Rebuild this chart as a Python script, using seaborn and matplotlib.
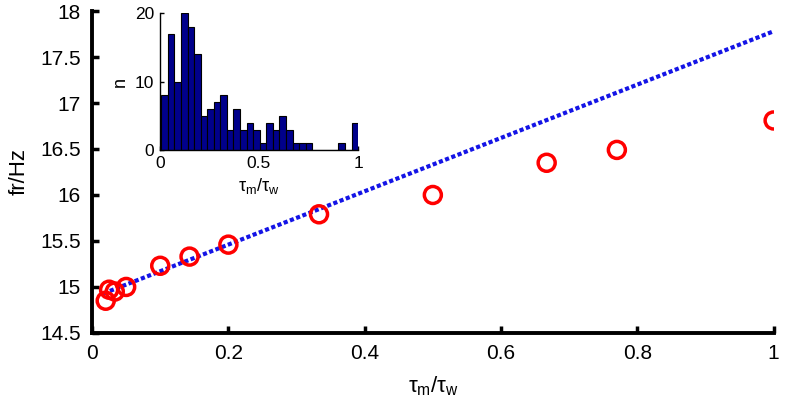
import numpy as np
import pandas as pd
import seaborn as sns
import matplotlib.pyplot as plt

# data
ratio = [0.02, 0.025, 0.0333, 0.05, 0.1, 0.143, 0.2, 0.333, 0.5, 0.667, 0.77, 1.0]
rate = [14.85, 14.97, 14.95, 15.00, 15.23, 15.33, 15.46, 15.79, 16.00, 16.35, 16.49, 16.81]
fit_x = [0.017, 1.0]
fit_y = [14.93, 17.78]

hist_lo, hist_hi, n_bins = 0.008, 1.0, 30
hist_counts = [8, 17, 10, 20, 18, 14, 5, 6, 7, 8, 3, 6, 3, 4, 3,
               1, 4, 3, 5, 3, 1, 1, 1, 0, 0, 0, 0, 1, 0, 4]

sns.set_style('ticks')
plt.rcParams['font.family'] = ['Liberation Sans', 'DejaVu Sans']
plt.rcParams['mathtext.fontset'] = 'custom'
plt.rcParams['mathtext.rm'] = 'Liberation Sans'
plt.rcParams['mathtext.it'] = 'Liberation Sans'
plt.rcParams['xtick.direction'] = 'in'
plt.rcParams['ytick.direction'] = 'in'
for k in ['axes.edgecolor', 'text.color', 'axes.labelcolor', 'xtick.color', 'ytick.color']:
    plt.rcParams[k] = 'black'

fig = plt.figure(figsize=(7.87, 4.09), dpi=100)
ax = fig.add_axes([0.117, 0.186, 0.866, 0.787])

sns.lineplot(x=fit_x, y=fit_y, ax=ax, color='#1414e6', lw=3, linestyle=(0, (1, 0.6)))
sns.scatterplot(x=ratio, y=rate, ax=ax, marker='o', s=150, facecolor='none',
                edgecolor='red', linewidth=2.5, zorder=3)

ax.set_xlim(0, 1)
ax.set_ylim(14.5, 18)
ax.set_xticks([0, 0.2, 0.4, 0.6, 0.8, 1])
ax.set_xticklabels(['0', '0.2', '0.4', '0.6', '0.8', '1'])
ax.set_yticks(np.arange(14.5, 18.01, 0.5))
ax.set_yticklabels(['14.5', '15', '15.5', '16', '16.5', '17', '17.5', '18'])
ax.tick_params(labelsize=15, width=2.5, length=5, pad=8)
for s in ['left', 'bottom']:
    ax.spines[s].set_linewidth(2.8)
sns.despine(ax=ax)
ax.set_xlabel(r'$\tau_m/\tau_w$', fontsize=16, labelpad=8)
ax.set_ylabel('fr/Hz', fontsize=16, labelpad=8)

# inset histogram
ins = fig.add_axes([0.203, 0.633, 0.252, 0.335])
w = (hist_hi - hist_lo) / n_bins
hist_df = pd.DataFrame({'ratio': hist_lo + w * (np.arange(n_bins) + 0.5),
                        'n': hist_counts})
sns.histplot(data=hist_df, x='ratio', weights='n', bins=n_bins,
             binrange=(hist_lo, hist_hi), ax=ins,
             color='#00008b', edgecolor='black', linewidth=0.8, alpha=1)
ins.set_xlim(0, 1)
ins.set_ylim(0, 20)
ins.set_xticks([0, 0.5, 1])
ins.set_xticklabels(['0', '0.5', '1'])
ins.set_yticks([0, 10, 20])
ins.tick_params(labelsize=12.5, width=1, length=3, pad=4)
for s in ['left', 'bottom']:
    ins.spines[s].set_linewidth(1)
sns.despine(ax=ins)
ins.set_xlabel(r'$\tau_m/\tau_w$', fontsize=13, labelpad=4)
ins.set_ylabel('n', fontsize=13, labelpad=4)

fig.savefig('out.png', dpi=100)
